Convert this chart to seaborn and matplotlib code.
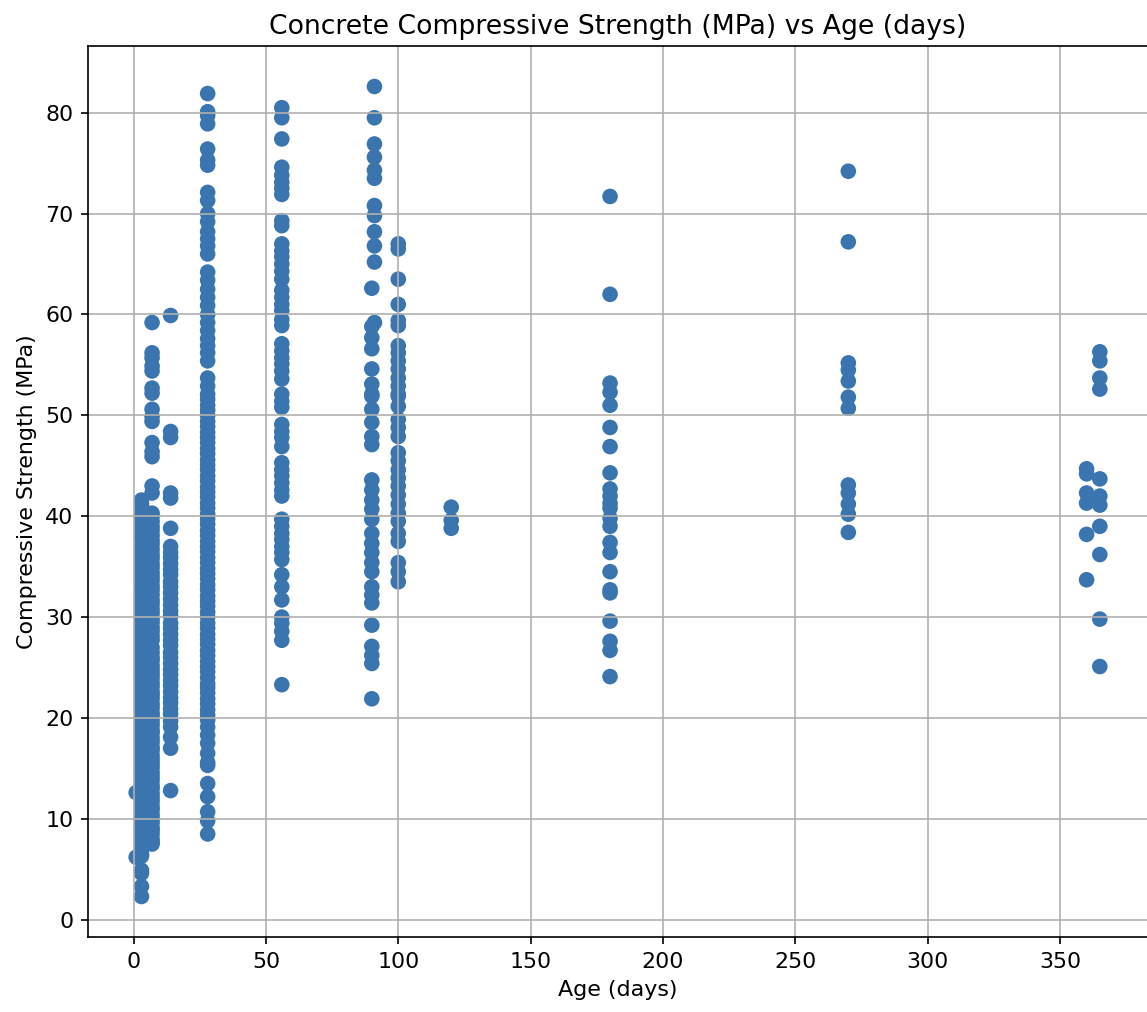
import matplotlib
matplotlib.use("Agg")
import matplotlib.pyplot as plt
import seaborn as sns
import pandas as pd

# ---- data (age in days, strength in MPa) ----
age_groups = [1, 3, 7, 14, 28, 56, 90, 91, 100, 120, 180, 270, 360, 365]

s_1 = [12.6, 6.2]
s_3 = [2.3, 3.3, 4.6, 4.9, 6.3, 6.5, 6.9, 7.4, 7.8, 8.1, 8.6, 8.9, 9.3, 9.8, 10.1,
       10.7, 11.0, 11.4, 11.9, 12.2, 12.6, 13.2, 13.5, 13.9, 14.4, 14.8, 15.1, 15.7,
       16.0, 16.5, 16.8, 17.2, 17.7, 18.1, 18.4, 18.9, 19.4, 19.7, 20.1, 20.7, 21.0,
       21.5, 21.8, 22.4, 22.7, 23.2, 23.7, 24.0, 24.4, 24.9, 25.3, 25.6, 26.1, 26.6,
       27.0, 27.5, 27.8, 28.3, 28.8, 29.2, 29.6, 30.1, 30.5, 31.0, 31.6, 32.1, 32.4,
       32.9, 33.5, 33.8, 34.3, 34.9, 35.2, 35.8, 36.3, 36.6, 37.1, 37.8, 38.2, 38.6,
       39.0, 39.3, 39.9, 40.4, 40.9, 41.2, 41.6]
s_7 = [7.5, 7.7, 8.0, 8.5, 8.9, 9.1, 9.6, 10.0, 10.4, 10.9, 11.2, 11.7, 12.1, 12.5,
       13.0, 13.3, 13.8, 14.2, 14.6, 15.1, 15.5, 15.9, 16.3, 16.8, 17.1, 17.6, 18.0,
       18.5, 18.8, 19.3, 19.7, 20.2, 20.5, 21.0, 21.4, 21.9, 22.3, 22.6, 23.1, 23.5,
       24.0, 24.4, 24.8, 25.2, 25.7, 26.0, 26.5, 27.0, 27.7, 28.1, 28.6, 29.0, 29.5,
       29.9, 30.4, 30.8, 31.3, 31.7, 32.2, 32.7, 33.1, 33.6, 34.0, 34.4, 34.9, 35.3,
       35.8, 36.2, 36.7, 37.2, 37.6, 38.1, 38.6, 39.0, 39.5, 40.0, 40.3, 42.3, 43.0,
       45.9, 46.4, 47.3, 49.4, 49.9, 50.6, 52.2, 52.7, 54.4, 54.9, 55.7, 56.2, 59.2]
s_14 = [12.8, 17.0, 18.1, 19.1, 19.7, 20.4, 20.9, 21.5, 22.0, 22.6, 23.2, 23.7, 24.3,
        24.8, 25.4, 26.0, 26.5, 27.2, 27.7, 28.3, 28.9, 29.4, 30.1, 30.6, 31.2, 31.8,
        32.4, 33.0, 33.5, 34.2, 34.7, 35.3, 35.9, 36.4, 37.0, 38.8, 41.8, 42.3, 47.8,
        48.4, 59.9]
s_28 = [8.5, 9.8, 10.7, 12.2, 13.5, 15.3, 15.6, 16.5, 17.5, 18.3, 19.1, 19.8, 20.3,
        20.8, 21.4, 21.9, 22.5, 23.0, 23.4, 24.0, 24.6, 25.1, 25.6, 26.2, 26.7, 27.3,
        27.8, 28.3, 28.9, 29.4, 30.0, 30.5, 31.1, 31.6, 32.1, 32.7, 33.2, 33.8, 34.3,
        34.8, 35.4, 35.9, 36.5, 37.0, 37.5, 38.1, 38.6, 39.2, 39.7, 40.2, 40.8, 41.3,
        41.9, 42.4, 42.9, 43.5, 44.0, 44.6, 45.1, 45.6, 46.2, 46.7, 47.3, 47.8, 48.3,
        48.9, 49.4, 50.0, 50.5, 51.0, 51.6, 52.1, 52.9, 53.7, 55.4, 56.2, 56.9, 57.6,
        58.4, 59.2, 60.0, 60.9, 61.7, 62.5, 63.4, 64.2, 66.0, 66.8, 67.5, 68.2, 69.2,
        70.0, 71.3, 72.1, 74.8, 75.3, 76.4, 78.9, 79.7, 80.1, 81.9]
s_56 = [80.5, 79.5, 77.4, 74.6, 73.8, 73.1, 72.5, 71.9, 69.3, 68.8, 67.0, 66.3, 65.7,
        65.0, 64.3, 63.5, 62.4, 61.7, 61.0, 60.4, 59.5, 58.9, 57.1, 56.4, 55.7, 55.1,
        54.4, 53.6, 52.1, 51.4, 50.8, 49.1, 48.4, 47.8, 46.9, 45.3, 44.6, 44.0, 43.3,
        42.6, 42.0, 39.7, 39.0, 38.3, 37.7, 37.0, 36.4, 35.7, 34.2, 33.0, 31.7, 30.0,
        29.4, 28.6, 27.7, 23.3]
s_90 = [62.6, 58.8, 57.7, 56.6, 54.6, 53.1, 52.1, 51.9, 50.6, 49.3, 47.9, 47.1, 43.6,
        42.6, 41.6, 40.7, 39.7, 38.3, 37.3, 36.4, 35.4, 34.5, 33.0, 32.2, 31.4, 29.2,
        27.1, 26.2, 25.4, 21.9]
s_91 = [82.6, 79.5, 76.9, 75.6, 74.3, 73.5, 70.8, 69.8, 68.2, 66.8, 65.2, 59.2]
s_100 = [67.0, 66.5, 63.5, 61.0, 59.4, 58.9, 56.9, 56.2, 55.4, 54.6, 53.7, 52.9, 52.1,
         51.9, 50.9, 49.6, 48.8, 47.9, 46.3, 45.5, 44.6, 43.8, 43.0, 42.1, 41.2, 40.3,
         39.5, 38.3, 37.5, 35.4, 34.5, 33.5]
s_120 = [40.9, 39.6, 38.8]
s_180 = [71.7, 62.0, 53.2, 52.3, 51.0, 48.8, 46.9, 44.3, 42.7, 42.0, 41.3, 40.8, 39.8,
         39.0, 37.4, 36.4, 34.5, 32.7, 32.4, 29.6, 27.6, 26.7, 24.1]
s_270 = [74.2, 67.2, 55.2, 54.5, 53.4, 51.8, 50.7, 43.1, 42.3, 41.2, 40.2, 38.4]
s_360 = [44.7, 44.2, 42.3, 41.3, 38.2, 33.7]
s_365 = [56.3, 55.4, 53.7, 52.6, 43.7, 42.0, 41.1, 39.0, 36.2, 29.8, 25.1]

strength_lists = [s_1, s_3, s_7, s_14, s_28, s_56, s_90, s_91, s_100, s_120,
                  s_180, s_270, s_360, s_365]

rows = []
for age, vals in zip(age_groups, strength_lists):
    for v in vals:
        rows.append((age, v))
df = pd.DataFrame(rows, columns=["Age", "Strength"])

# ---- figure ----
fig = plt.figure(figsize=(1147 / 150, 1012 / 150), dpi=150)
ax = fig.add_axes([88 / 1147, 75 / 1012, 1060 / 1147, 891 / 1012])

sns.scatterplot(data=df, x="Age", y="Strength", color="#3A75AF", s=56,
                linewidth=0, edgecolor="none", ax=ax)

ax.set_title("Concrete Compressive Strength (MPa) vs Age (days)", fontsize=12.75)
ax.set_xlabel("Age (days)", fontsize=10.6)
ax.set_ylabel("Compressive Strength (MPa)", fontsize=10.6)
ax.tick_params(labelsize=10.6)
ax.grid(True)

fig.savefig("out.png", dpi=150)
